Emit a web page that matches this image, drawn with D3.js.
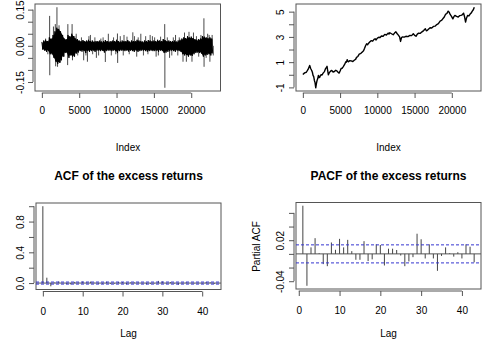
<!DOCTYPE html>
<html>
<head>
<meta charset="utf-8">
<script src="https://cdn.jsdelivr.net/npm/d3@7"></script>
<style>
body { margin: 0; background: #fff; }
svg { display: block; font-family: "Liberation Sans", Arial, Helvetica, sans-serif; }
</style>
</head>
<body>
<svg id="chart" width="492" height="347"></svg>
<script>
// ---- data ----

// excess returns, per-bin extent of the dense core (bins of 250 obs)
const binStep = 250;
const coreHi = [.016,.022,.025,.02,.035,.03,.045,.06,.075,.07,
  .06,.045,.03,.028,.045,.04,.05,.04,.03,.028,
  .022,.02,.024,.02,.022,.025,.02,.022,.018,.02,
  .02,.022,.018,.02,.024,.02,.018,.02,.022,.02,
  .025,.02,.018,.022,.02,.02,.024,.018,.022,.02,
  .02,.025,.022,.02,.018,.022,.02,.024,.022,.02,
  .022,.02,.025,.022,.02,.028,.024,.02,.022,.02,
  .02,.022,.018,.022,.025,.03,.035,.032,.04,.035,
  .038,.032,.028,.025,.028,.03,.04,.038,.035,.032,
  .035,.03];
const coreLo = [-.016,-.02,-.025,-.022,-.035,-.035,-.05,-.065,-.075,-.07,
  -.06,-.045,-.03,-.03,-.05,-.04,-.045,-.045,-.032,-.028,
  -.022,-.024,-.02,-.03,-.022,-.025,-.022,-.02,-.025,-.02,
  -.02,-.022,-.02,-.028,-.022,-.02,-.02,-.022,-.02,-.022,
  -.03,-.022,-.02,-.02,-.022,-.02,-.024,-.02,-.022,-.025,
  -.02,-.025,-.022,-.02,-.02,-.022,-.024,-.022,-.02,-.022,
  -.022,-.02,-.025,-.02,-.022,-.03,-.028,-.025,-.022,-.02,
  -.022,-.025,-.02,-.022,-.025,-.035,-.04,-.038,-.045,-.04,
  -.042,-.035,-.03,-.028,-.03,-.032,-.045,-.04,-.038,-.035,
  -.04,-.032];

// isolated large returns
const spikeIdx = [1040,1060,1550,1800,1850,2020,2100,2300,2500,3450,3480,4050,4100,4600,5600,6100,6500,7300,8500,8900,
  10120,10150,11000,12180,12700,13250,14500,15300,16450,16470,17100,17900,18900,19100,19350,19700,20100,20300,
  21700,21720,22200,22500,22800];
const spikeVal = [0.124,-0.122,0.08,0.09,-0.085,0.16,-0.087,0.085,-0.07,-0.08,0.09,0.09,-0.06,0.05,-0.06,-0.066,0.045,-0.05,-0.067,0.05,
  0.051,-0.071,0.045,0.056,-0.045,0.05,0.045,-0.045,0.09,-0.174,-0.05,0.045,-0.066,0.055,-0.066,0.058,-0.066,0.055,
  0.114,-0.087,0.05,-0.066,0.045];
// smaller hairs sticking out of the core
const hairIdx = [500,800,2800,3000,4400,4800,5300,5900,6300,6800,7100,7600,7900,8200,9300,9600,9900,10500,10900,11400,
  11700,12400,12900,13600,13900,14200,14800,15100,15600,15900,16800,17400,17600,18200,18400,20700,21000,21300,22000,22400,22950];
const hairVal = [0.03,-0.035,0.045,-0.045,0.04,-0.04,0.035,-0.04,0.04,-0.035,0.035,-0.04,0.03,0.035,-0.04,0.035,-0.035,0.04,-0.04,0.038,
  -0.035,0.04,0.035,-0.04,0.04,-0.035,0.04,0.035,-0.04,0.038,0.035,-0.04,0.035,-0.04,0.035,0.04,-0.045,0.045,-0.05,0.045,-0.04];

// cumulative excess returns
const cumIdx = [0,235,470,700,920,1050,1190,1280,1370,1460,1550,1640,1730,1820,1910,2000,2090,2180,2270,2360,
  2450,2580,2720,2900,3080,3160,3250,3340,3430,3520,3610,3750,3880,4060,4240,4420,4600,4730,4870,5000,
  5140,5270,5410,5590,5770,5860,5950,6040,6130,6310,6490,6710,6940,7080,7210,7390,7570,7800,8020,8150,
  8290,8420,8560,8700,8830,9010,9190,9380,9560,9700,9830,10010,10190,10370,10550,10780,11000,11220,11450,11560,
  11680,11900,12130,12310,12490,12670,12850,12990,13120,13250,13390,13610,13840,14110,14380,14600,14830,15010,15190,15370,
  15550,15780,16000,16220,16450,16580,16720,16900,17080,17300,17530,17750,17980,18200,18430,18610,18790,18970,19150,19330,
  19510,19650,19780,19960,20140,20280,20410,20640,20860,21040,21220,21400,21580,21710,21850,21980,22120,22300,22480,22620,
  22750,22890,23020];
const cumVal = [0.02,0.15,0.2,0.42,0.74,0.5,0.34,0.2,-0.05,-0.15,-0.45,-0.62,-1.03,-0.7,-0.45,-0.3,-0.05,-0.22,-0.2,-0.05,
  0.0,-0.02,0.13,0.25,0.53,0.55,0.67,0.3,0.0,0.12,0.21,0.3,0.34,0.22,0.26,0.36,0.29,0.2,0.13,0.3,
  0.5,0.52,0.63,0.8,1.03,1.0,1.2,1.08,1.03,1.12,1.1,1.05,1.17,1.22,1.38,1.45,1.64,1.7,1.83,1.9,
  2.1,2.3,2.45,2.38,2.5,2.62,2.7,2.66,2.8,2.85,2.76,2.9,2.97,2.95,3.07,3.05,3.2,3.15,3.3,3.22,
  3.33,3.25,3.17,3.3,3.4,3.25,3.12,3.0,2.64,2.95,3.0,2.98,3.05,3.02,3.12,3.1,3.25,3.12,3.05,3.22,
  3.3,3.28,3.4,3.5,3.65,3.48,3.52,3.62,3.72,3.7,3.83,3.85,3.98,4.05,4.25,4.3,4.43,4.55,4.78,4.85,
  5.04,4.95,4.78,4.62,4.43,4.6,4.7,4.62,4.57,4.68,4.7,4.75,4.88,4.6,4.17,4.5,4.7,4.66,4.83,4.9,
  5.04,5.15,5.35];

const nObs = 23000;

// ACF, lags 0..43
const acfVal = [1,0.07,-0.042,0.008,0.021,0.0,-0.014,-0.017,0.015,0.005,0.02,0.008,0.019,0.003,-0.008,-0.008,0.017,-0.01,-0.007,0.013,
  0.012,-0.016,0.007,0.007,0.005,-0.002,-0.017,-0.01,-0.004,0.028,0.021,-0.006,0.013,-0.006,-0.023,-0.003,0.009,0.001,-0.004,0.002,
  -0.006,0.013,0.01,-0.012];
// PACF, lags 1..43
const pacfVal = [0.0705,-0.0467,0.0095,0.023,0.001,-0.015,-0.018,0.0167,0.006,0.022,0.0095,0.0205,0.004,-0.0086,-0.0086,0.0186,-0.0105,-0.008,0.014,0.013,
  -0.017,0.0076,0.0076,0.0057,-0.0024,-0.018,-0.011,-0.0048,0.0295,0.0214,-0.0067,0.014,-0.0067,-0.0248,-0.003,0.0095,0.001,-0.004,0.0024,-0.0067,
  0.014,0.0105,-0.0124];
const ciBound = 0.0132;

// ticks and labels
const idxTicks = [0,5000,10000,15000,20000];
const lagTicks = [0,10,20,30,40];
const retTicks = [-0.15,-0.1,-0.05,0,0.05,0.1,0.15];
const retLabels = ["-0.15","","","0.00","","","0.15"];
const cumTicks = [-1,0,1,2,3,4,5];
const cumLabels = ["-1","","1","","3","","5"];
const acfTicks = [0,0.2,0.4,0.6,0.8,1.0];
const acfLabels = ["0.0","","0.4","","0.8",""];
const pacfTicks = [-0.04,-0.02,0,0.02,0.04,0.06];
const pacfLabels = ["-0.04","","","0.02","",""];

// ---- drawing ----
const svg = d3.select("#chart");
const axisCol = "#555";
const off = 2;

function rpad(ext) {
  const d = (ext[1] - ext[0]) * 0.04;
  return [ext[0] - d, ext[1] + d];
}

function panel(box, xdom, ydom) {
  const x = d3.scaleLinear().domain(xdom).range([box.x0, box.x1]);
  const y = d3.scaleLinear().domain(ydom).range([box.y1, box.y0]);
  svg.append("rect")
    .attr("x", box.x0).attr("y", box.y0)
    .attr("width", box.x1 - box.x0).attr("height", box.y1 - box.y0)
    .attr("fill", "none").attr("stroke", axisCol);
  return {x: x, y: y, box: box};
}

function axes(p, xt, xpad, yt, ylab, ydist) {
  const gx = svg.append("g")
    .attr("transform", "translate(0," + (p.box.y1 + off) + ")")
    .call(d3.axisBottom(p.x).tickValues(xt).tickSize(5).tickPadding(xpad).tickFormat(d => String(d)));
  gx.select(".domain").remove();
  gx.append("line")
    .attr("x1", p.x(xt[0])).attr("x2", p.x(xt[xt.length - 1]));
  gx.selectAll("line").attr("stroke", axisCol);
  gx.selectAll("text").attr("fill", "#000").style("font-size", "10px");

  const gy = svg.append("g")
    .attr("transform", "translate(" + (p.box.x0 - off) + ",0)")
    .call(d3.axisLeft(p.y).tickValues(yt).tickSize(5).tickFormat((d, i) => ylab[i]));
  gy.select(".domain").remove();
  gy.append("line")
    .attr("y1", p.y(yt[0])).attr("y2", p.y(yt[yt.length - 1]));
  gy.selectAll("line").attr("stroke", axisCol);
  gy.selectAll("text")
    .attr("fill", "#000").style("font-size", "10px")
    .attr("transform", "rotate(-90)")
    .attr("x", 0).attr("y", -ydist).attr("dy", 0)
    .attr("text-anchor", "middle");
}

function label(txt, x, y, opts) {
  const t = svg.append("text").attr("x", x).attr("y", y)
    .attr("text-anchor", "middle").attr("fill", "#000")
    .style("font-size", (opts && opts.size) || "10px")
    .text(txt);
  if (opts && opts.bold) t.style("font-weight", "bold");
  if (opts && opts.rotate) t.attr("transform", "rotate(-90," + x + "," + y + ")");
  return t;
}

function sticks(p, xs, ys, col, w) {
  svg.append("g").selectAll("line").data(xs).join("line")
    .attr("x1", d => p.x(d)).attr("x2", d => p.x(d))
    .attr("y1", p.y(0)).attr("y2", (d, i) => p.y(ys[i]))
    .attr("stroke", col).attr("stroke-width", w);
}

// top-left: excess returns
const tl = panel({x0: 35, x1: 220.5, y0: 4, y1: 91},
  rpad([1, nObs]), rpad([d3.min(spikeVal), d3.max(spikeVal)]));
sticks(tl, spikeIdx, spikeVal, "#333", 0.9);
sticks(tl, hairIdx, hairVal, "#222", 0.8);
// dense core: filled band plus a zigzag for the ragged edge
svg.append("path")
  .datum(coreHi)
  .attr("d", d3.area()
    .x((d, i) => tl.x(i * binStep + binStep / 4))
    .y0((d, i) => tl.y(coreLo[i]) - 1)
    .y1(d => tl.y(d) + 1))
  .attr("fill", "#000");
let zz = "";
coreHi.forEach((h, i) => {
  const a = tl.x(i * binStep), b = tl.x(i * binStep + binStep / 2);
  zz += (i ? "L" : "M") + a + "," + tl.y(h) + "L" + b + "," + tl.y(coreLo[i]);
});
svg.append("path").attr("d", zz).attr("fill", "none").attr("stroke", "#000").attr("stroke-width", 1);
axes(tl, idxTicks, 9, retTicks, retLabels, 9.5);
label("Index", 128, 151);

// top-right: cumulative
const tr = panel({x0: 296, x1: 481, y0: 4, y1: 91},
  rpad([1, nObs]), rpad(d3.extent(cumVal)));
svg.append("path")
  .datum(cumIdx)
  .attr("d", d3.line().x(d => tr.x(d)).y((d, i) => tr.y(cumVal[i])))
  .attr("fill", "none").attr("stroke", "#000").attr("stroke-width", 1.4)
  .attr("stroke-linejoin", "round");
axes(tr, idxTicks, 9, cumTicks, cumLabels, 10);
label("Index", 388.5, 151);

// bottom-left: ACF
const bl = panel({x0: 36, x1: 221, y0: 203, y1: 289.5},
  rpad([0, acfVal.length - 1]), rpad([Math.min(-ciBound, d3.min(acfVal)), Math.max(ciBound, d3.max(acfVal))]));
svg.append("line").attr("x1", bl.box.x0).attr("x2", bl.box.x1)
  .attr("y1", bl.y(0)).attr("y2", bl.y(0)).attr("stroke", axisCol);
svg.append("g").selectAll("line").data(acfVal).join("line")
  .attr("x1", (d, i) => bl.x(i)).attr("x2", (d, i) => bl.x(i))
  .attr("y1", bl.y(0)).attr("y2", d => bl.y(d))
  .attr("stroke", "#444");
[ciBound, -ciBound].forEach(c => {
  svg.append("line").attr("x1", bl.box.x0).attr("x2", bl.box.x1)
    .attr("y1", bl.y(c)).attr("y2", bl.y(c))
    .attr("stroke", "#3535d0").attr("stroke-dasharray", "3,2");
});
axes(bl, lagTicks, 11, acfTicks, acfLabels, 10);
label("ACF of the excess returns", 128.5, 179.5, {bold: true, size: "12px"});
label("Lag", 128.5, 336.5);

// bottom-right: PACF
const br = panel({x0: 296, x1: 481, y0: 202.5, y1: 289},
  rpad([1, pacfVal.length]), rpad([Math.min(-ciBound, d3.min(pacfVal)), Math.max(ciBound, d3.max(pacfVal))]));
svg.append("line").attr("x1", br.box.x0).attr("x2", br.box.x1)
  .attr("y1", br.y(0)).attr("y2", br.y(0)).attr("stroke", axisCol);
svg.append("g").selectAll("line").data(pacfVal).join("line")
  .attr("x1", (d, i) => br.x(i + 1)).attr("x2", (d, i) => br.x(i + 1))
  .attr("y1", br.y(0)).attr("y2", d => br.y(d))
  .attr("stroke", "#444");
[ciBound, -ciBound].forEach(c => {
  svg.append("line").attr("x1", br.box.x0).attr("x2", br.box.x1)
    .attr("y1", br.y(c)).attr("y2", br.y(c))
    .attr("stroke", "#3535d0").attr("stroke-dasharray", "3,2");
});
axes(br, lagTicks, 11, pacfTicks, pacfLabels, 10.5);
label("PACF of the excess returns", 388.5, 179.5, {bold: true, size: "12px"});
label("Lag", 388.5, 336.5);
label("Partial ACF", 259.5, 246.5, {rotate: true});
</script>
</body>
</html>
